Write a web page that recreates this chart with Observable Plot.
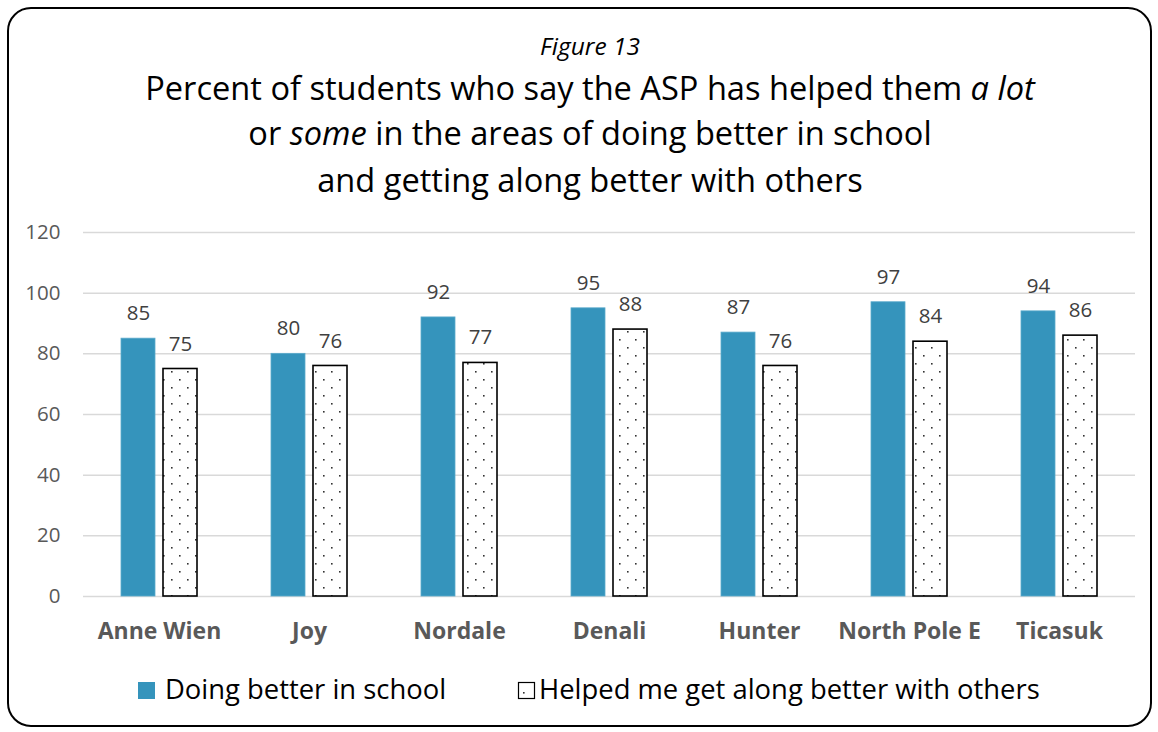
<!DOCTYPE html>
<html><head><meta charset="utf-8">
<script src="https://cdn.jsdelivr.net/npm/d3@7"></script>
<script src="https://cdn.jsdelivr.net/npm/@observablehq/plot@0.6"></script>
<style>
body{margin:0;background:#fff;font-family:"Open Sans",Lato,sans-serif;}
#frame{position:absolute;left:7px;top:7px;width:1141px;height:716px;border:2px solid #000;border-radius:24px;}
.t{position:absolute;left:0;width:1180px;text-align:center;color:#000;white-space:nowrap;}
#fig{top:29px;font-size:24.5px;font-style:italic;}
#l1{top:65px;font-size:32.6px;}
#l2{top:110px;font-size:32.6px;}
#l3{top:157px;font-size:32.6px;}
#chart{position:absolute;left:0;top:200px;}
#legend{position:absolute;top:670px;left:0;font-size:27.4px;color:#000;}
.sw{position:absolute;top:12px;width:17px;height:17px;}
.lt{position:absolute;top:0;white-space:nowrap;}
</style></head>
<body>
<div id="frame"></div>
<div class="t" id="fig">Figure 13</div>
<div class="t" id="l1">Percent of students who say the ASP has helped them <i>a lot</i></div>
<div class="t" id="l2">or <i>some</i> in the areas of doing better in school</div>
<div class="t" id="l3">and getting along better with others</div>
<div id="chart"></div>
<div id="legend">
  <div class="sw" style="left:138px;background:#3594BC"></div><div class="lt" style="left:165px">Doing better in school</div>
  <svg class="sw" style="left:518px;overflow:visible" width="17" height="17"><rect x="0.5" y="0.5" width="16" height="16" fill="#fff" stroke="#000" stroke-width="1.2"/><rect x="5" y="10" width="1.6" height="1.6" fill="#333"/></svg><div class="lt" style="left:539px">Helped me get along better with others</div>
</div>
<script>
const sites = ["Anne Wien","Joy","Nordale","Denali","Hunter","North Pole E","Ticasuk"];
const schoolValues = [85,80,92,95,87,97,94];
const othersValues = [75,76,77,88,76,84,86];
const yTicks = [0,20,40,60,80,100,120];

const school = sites.map((s,i)=>({site:s,value:schoolValues[i]}));
const others = sites.map((s,i)=>({site:s,value:othersValues[i]}));

const chart = Plot.plot({
  width: 1158,
  height: 456,
  marginTop: 32,
  marginBottom: 60,
  marginLeft: 83,
  marginRight: 23,
  style: {fontFamily: "'Open Sans', Lato, sans-serif", background: "transparent", overflow: "visible"},
  x: {domain: sites, padding: 0, label: null, tickSize: 0},
  y: {domain: [0,120], label: null},
  marks: [
    Plot.ruleY(yTicks, {stroke: "#d9d9d9", strokeWidth: 1.5}),
    Plot.axisY({ticks: yTicks, tickSize: 0, tickPadding: 23, fontSize: 20.5, fill: "#595959", label: null}),
    Plot.axisX({tickSize: 0, tickPadding: 26, fontSize: 23, fontWeight: "bold", fill: "#595959", label: null}),
    Plot.barY(school, {x: "site", y: "value", fill: "#3594BC", stroke: "#5aaacb", strokeWidth: 0.8, insetLeft: 37, insetRight: 79}),
    Plot.barY(others, {x: "site", y: "value", fill: "url(#dots)", stroke: "#000", strokeWidth: 1.6, insetLeft: 79, insetRight: 37}),
    Plot.text(school, {x: "site", y: "value", text: d => String(d.value), dx: -21, dy: -25, fontSize: 20.5, fill: "#404040"}),
    Plot.text(others, {x: "site", y: "value", text: d => String(d.value), dx: 21, dy: -25, fontSize: 20.5, fill: "#404040"})
  ]
});

const svg = d3.select(chart);
const defs = svg.insert("defs", ":first-child");
const pat = defs.append("pattern").attr("id","dots").attr("patternUnits","userSpaceOnUse")
  .attr("width",16).attr("height",16);
pat.append("rect").attr("width",16).attr("height",16).attr("fill","#fff");
pat.append("rect").attr("x",3).attr("y",3).attr("width",1.6).attr("height",1.6).attr("fill","#333");
pat.append("rect").attr("x",11).attr("y",11).attr("width",1.6).attr("height",1.6).attr("fill","#333");

document.getElementById("chart").appendChild(chart);
</script>
</body></html>
